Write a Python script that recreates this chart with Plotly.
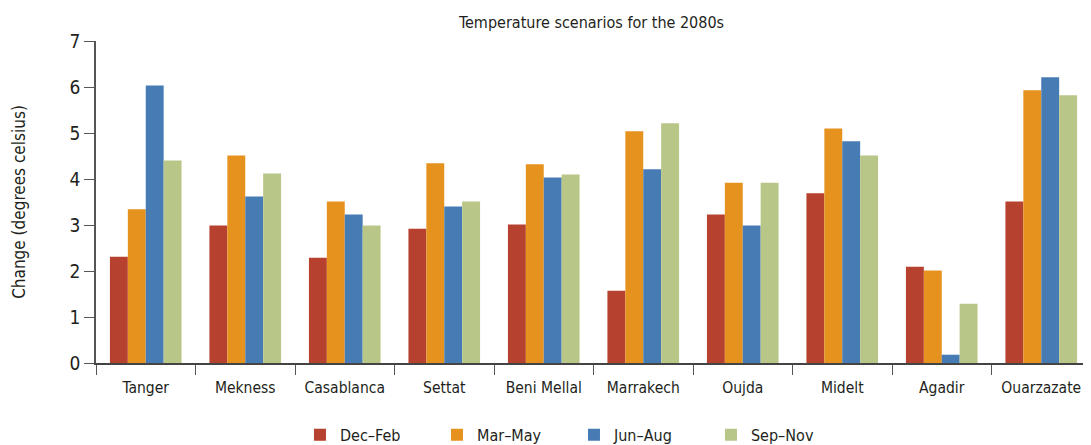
import plotly.graph_objects as go

cities = ["Tanger", "Mekness", "Casablanca", "Settat", "Beni Mellal",
          "Marrakech", "Oujda", "Midelt", "Agadir", "Ouarzazate"]
dec_feb = [2.31, 2.99, 2.29, 2.92, 3.01, 1.57, 3.23, 3.69, 2.09, 3.51]
mar_may = [3.34, 4.51, 3.51, 4.34, 4.32, 5.04, 3.92, 5.10, 2.01, 5.93]
jun_aug = [6.03, 3.62, 3.23, 3.40, 4.03, 4.21, 2.99, 4.82, 0.18, 6.21]
sep_nov = [4.40, 4.12, 2.99, 3.51, 4.10, 5.21, 3.92, 4.51, 1.29, 5.82]

series = [
    ("Dec\u2013Feb", dec_feb, "#B5412E"),
    ("Mar\u2013May", mar_may, "#E6921E"),
    ("Jun\u2013Aug", jun_aug, "#477BB3"),
    ("Sep\u2013Nov", sep_nov, "#B8C687"),
]

FONT = "DejaVu Sans Condensed, Liberation Sans Narrow, Liberation Sans, sans-serif"

# page body has an 8px margin, so the figure is sized to fit the window
W, H = 1083, 437

fig = go.Figure()
for name, vals, col in series:
    fig.add_trace(go.Bar(x=cities, y=vals, name=name, marker_color=col,
                         marker_line_width=0))

fig.update_layout(
    width=W, height=H,
    barmode="group", bargap=0.28, bargroupgap=0,
    plot_bgcolor="white", paper_bgcolor="white",
    margin=dict(l=88, r=0, t=33, b=82, autoexpand=False),
    font=dict(family=FONT, color="#231F20"),
    title=dict(text="Temperature scenarios for the 2080s", x=0.498, xanchor="center",
               xref="paper", yref="container", y=1 - 14 / H, yanchor="middle",
               font=dict(size=16, family=FONT, color="#231F20")),
    legend=dict(orientation="h", x=0.205, xanchor="left", y=-0.17, yanchor="top",
                font=dict(size=16, family=FONT), entrywidth=92, entrywidthmode="pixels",
                itemsizing="constant"),
    showlegend=True,
)
fig.update_yaxes(range=[0, 7], dtick=1, showgrid=False, zeroline=False,
                 showline=True, linecolor="#555555", linewidth=1.5,
                 ticks="outside", ticklen=10, tickcolor="#555555",
                 tickfont=dict(size=19, family=FONT), automargin=False,
                 title=dict(text="Change (degrees celsius)", font=dict(size=17, family=FONT),
                            standoff=40))
fig.update_xaxes(showgrid=False, showline=True, linecolor="#444444", linewidth=2,
                 ticks="outside", ticklen=10, tickcolor="#555555", tickson="boundaries",
                 tickangle=0, automargin=False, ticklabelstandoff=9,
                 tickfont=dict(size=15.5, family=FONT))

fig.write_html("out.html")
